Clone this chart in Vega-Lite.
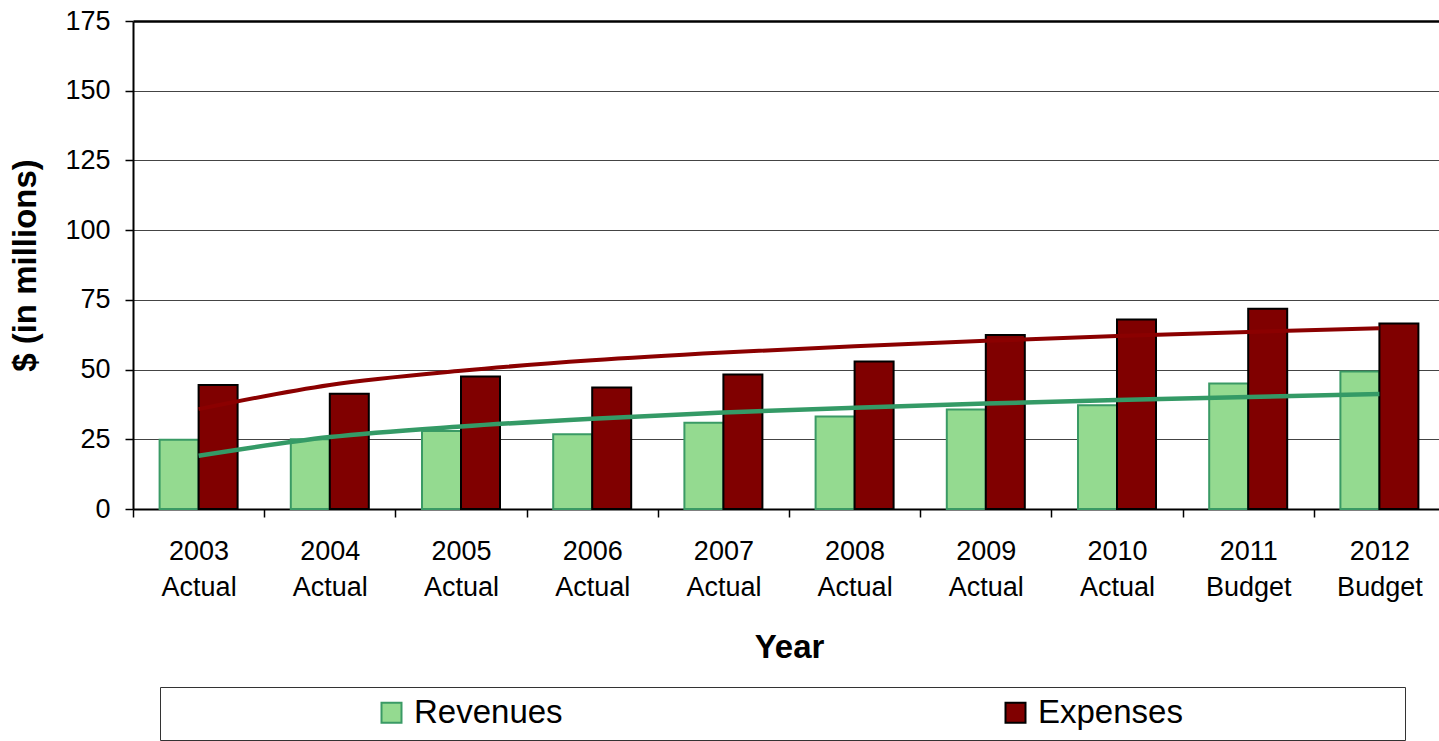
{
  "$schema": "https://vega.github.io/schema/vega-lite/v6.json",
  "width": 1306,
  "height": 488,
  "autosize": {"type": "none"},
  "padding": {"left": 133, "top": 21, "right": 0, "bottom": 232},
  "background": "white",
  "config": {
    "view": {"stroke": null},
    "font": "Liberation Sans",
    "axis": {"labelFont": "Liberation Sans", "titleFont": "Liberation Sans", "labelColor": "#000", "titleColor": "#000"},
    "legend": {
      "orient": "none",
      "legendX": 27,
      "legendY": 666,
      "direction": "horizontal",
      "strokeColor": "#333",
      "padding": 10,
      "symbolType": "square",
      "symbolSize": 400,
      "symbolStrokeWidth": 2,
      "symbolOffset": 205,
      "labelOffset": 6,
      "clipHeight": 31,
      "labelFontSize": 33,
      "labelLimit": 600,
      "labelFont": "Liberation Sans",
      "labelColor": "#000",
      "columnPadding": 231,
      "titleOrient": "right",
      "titleFont": "Liberation Sans",
      "titleFontSize": 28,
      "titleFontWeight": "normal",
      "titleOpacity": 0,
      "titlePadding": 25,
      "titleLimit": 600
    }
  },
  "data": {
    "values": [
      {"year": "2003 Actual", "series": "Revenues", "value": 24.8, "trend": 19.1},
      {"year": "2004 Actual", "series": "Revenues", "value": 25.0, "trend": 25.8},
      {"year": "2005 Actual", "series": "Revenues", "value": 28.0, "trend": 29.6},
      {"year": "2006 Actual", "series": "Revenues", "value": 26.8, "trend": 32.4},
      {"year": "2007 Actual", "series": "Revenues", "value": 30.9, "trend": 34.6},
      {"year": "2008 Actual", "series": "Revenues", "value": 33.2, "trend": 36.3},
      {"year": "2009 Actual", "series": "Revenues", "value": 35.7, "trend": 37.8},
      {"year": "2010 Actual", "series": "Revenues", "value": 37.2, "trend": 39.1},
      {"year": "2011 Budget", "series": "Revenues", "value": 45.0, "trend": 40.2},
      {"year": "2012 Budget", "series": "Revenues", "value": 49.3, "trend": 41.2},
      {"year": "2003 Actual", "series": "Expenses", "value": 44.5, "trend": 35.8},
      {"year": "2004 Actual", "series": "Expenses", "value": 41.3, "trend": 44.5},
      {"year": "2005 Actual", "series": "Expenses", "value": 47.5, "trend": 49.6},
      {"year": "2006 Actual", "series": "Expenses", "value": 43.6, "trend": 53.3},
      {"year": "2007 Actual", "series": "Expenses", "value": 48.2, "trend": 56.1},
      {"year": "2008 Actual", "series": "Expenses", "value": 52.9, "trend": 58.4},
      {"year": "2009 Actual", "series": "Expenses", "value": 62.4, "trend": 60.3},
      {"year": "2010 Actual", "series": "Expenses", "value": 68.0, "trend": 62.0},
      {"year": "2011 Budget", "series": "Expenses", "value": 71.8, "trend": 63.5},
      {"year": "2012 Budget", "series": "Expenses", "value": 66.5, "trend": 64.8}
    ]
  },
  "encoding": {
    "x": {
      "field": "year",
      "type": "nominal",
      "sort": null,
      "scale": {"paddingInner": 0, "paddingOuter": 0, "range": [0, 1312]},
      "axis": {
        "title": "Year",
        "titleFontSize": 33,
        "titleFontWeight": "bold",
        "titleX": 656,
        "titleY": 148,
        "titleBaseline": "alphabetic",
        "titleAlign": "center",
        "labelAngle": 0,
        "labelFontSize": 27,
        "labelLineHeight": 36,
        "labelPadding": 21,
        "labelExpr": "split(datum.label, ' ')",
        "tickBand": "extent",
        "tickSize": 8,
        "tickColor": "#000",
        "tickWidth": 1.5,
        "domainColor": "#000",
        "domainWidth": 2,
        "grid": false
      }
    }
  },
  "layer": [
    {
      "mark": {"type": "bar", "strokeWidth": 2},
      "encoding": {
        "xOffset": {"field": "series", "type": "nominal", "sort": ["Revenues", "Expenses"], "scale": {"paddingInner": 0, "paddingOuter": 0.682}},
        "y": {
          "field": "value",
          "type": "quantitative",
          "scale": {"domain": [0, 175], "nice": false},
          "axis": {
            "title": "$ (in millions)",
            "titleFontSize": 33,
            "titleFontWeight": "bold",
            "titleAngle": -90,
            "titleX": -108,
            "titleY": 244,
            "titleAlign": "center",
            "titleBaseline": "middle",
            "values": [0, 25, 50, 75, 100, 125, 150, 175],
            "labelFontSize": 27,
            "labelPadding": 15,
            "tickSize": 8,
            "tickColor": "#000",
            "tickWidth": 1.5,
            "domainColor": "#000",
            "domainWidth": 2,
            "grid": true,
            "gridColor": {"condition": {"test": "datum.value === 175", "value": "#000"}, "value": "#444"},
            "gridWidth": {"condition": {"test": "datum.value === 175", "value": 2.5}, "value": 1}
          }
        },
        "color": {
          "field": "series",
          "type": "nominal",
          "sort": ["Revenues", "Expenses"],
          "scale": {"domain": ["Revenues", "Expenses"], "range": ["#94DA90", "#800000"]},
          "legend": {"title": "MMMMMMMM"}
        },
        "stroke": {
          "field": "series",
          "type": "nominal",
          "sort": ["Revenues", "Expenses"],
          "scale": {"domain": ["Revenues", "Expenses"], "range": ["#3A9A65", "#000000"]},
          "legend": {"title": "MMMMMMMM"}
        }
      }
    },
    {
      "transform": [{"filter": "datum.series == 'Expenses'"}],
      "mark": {"type": "line", "color": "#8B0000", "strokeWidth": 4, "interpolate": "monotone"},
      "encoding": {"y": {"field": "trend", "type": "quantitative"}}
    },
    {
      "transform": [{"filter": "datum.series == 'Revenues'"}],
      "mark": {"type": "line", "color": "#349A66", "strokeWidth": 4.5, "interpolate": "monotone"},
      "encoding": {"y": {"field": "trend", "type": "quantitative"}}
    }
  ]
}
